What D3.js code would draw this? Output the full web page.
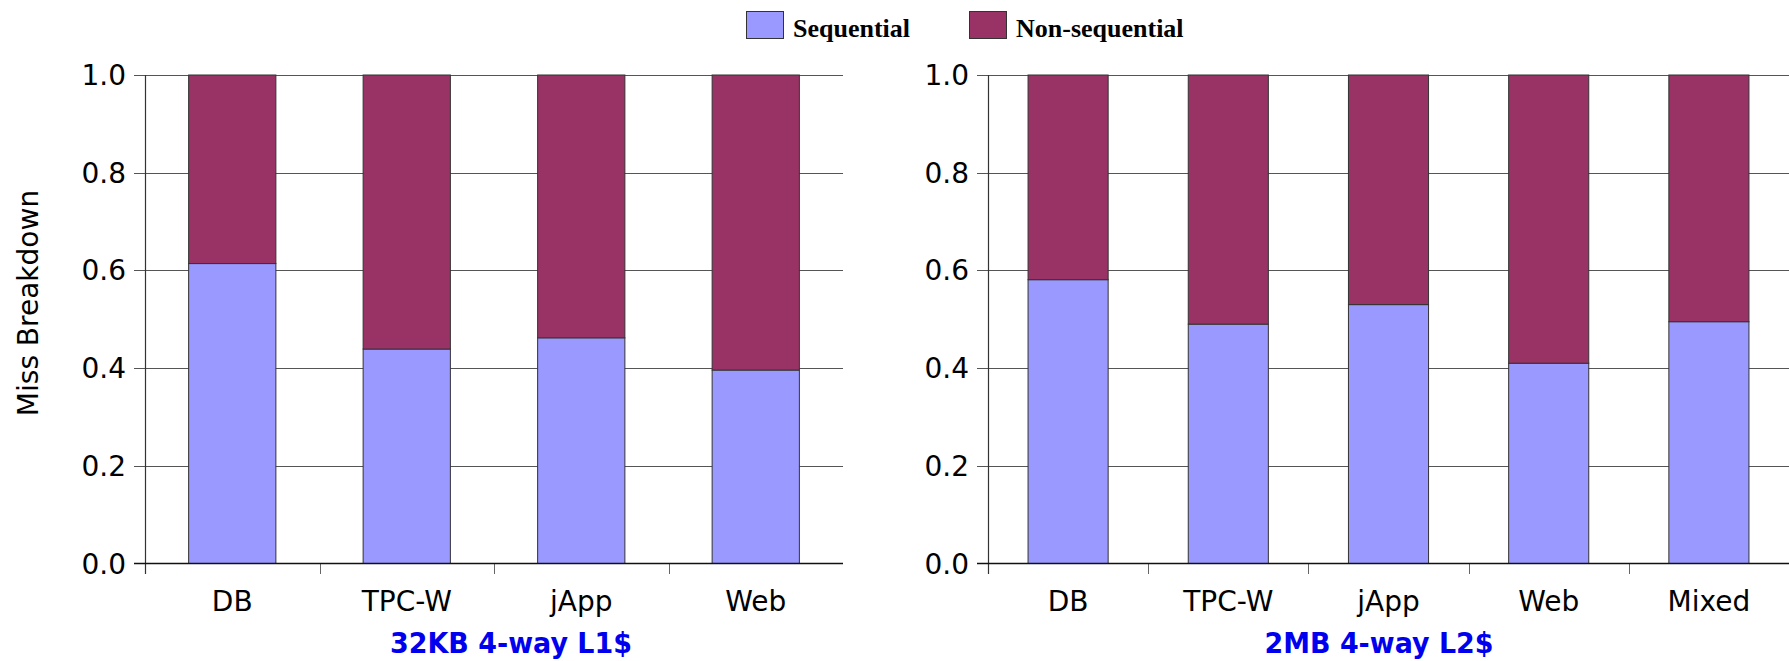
<!DOCTYPE html>
<html>
<head>
<meta charset="utf-8">
<script src="https://cdn.jsdelivr.net/npm/d3@7"></script>
<style>
html,body{margin:0;padding:0;background:#fff;}
svg{display:block;}
</style>
</head>
<body>
<svg id="chart" width="1789" height="661"></svg>
<script>
// ---- data ----
const seriesNames = ["Sequential", "Non-sequential"];
const seriesColors = ["#9999FF", "#993366"];
const leftCategories = ["DB", "TPC-W", "jApp", "Web"];
const leftSequential = [0.614, 0.439, 0.462, 0.396];
const rightCategories = ["DB", "TPC-W", "jApp", "Web", "Mixed"];
const rightSequential = [0.581, 0.490, 0.530, 0.410, 0.495];
const yTicks = [0.0, 0.2, 0.4, 0.6, 0.8, 1.0];
const leftTitle = "32KB 4-way L1$";
const rightTitle = "2MB 4-way L2$";
const yAxisTitle = "Miss Breakdown";

const svg = d3.select("#chart");
const tickFont = "DejaVu Sans, Verdana, sans-serif";

const y = d3.scaleLinear().domain([0, 1]).range([563.5, 75]);

function panel(opts) {
  const {x0, x1, cats, seq, title, titleLen} = opts;
  const g = svg.append("g");
  const x = d3.scaleBand().domain(cats).range([x0, x1]).paddingInner(0).paddingOuter(0);
  const bw = x.bandwidth();
  const barW = bw * 0.5;

  // gridlines + y ticks
  g.selectAll("line.grid").data(yTicks).enter().append("line")
    .attr("x1", x0 - 11).attr("x2", x1)
    .attr("y1", d => Math.round(y(d)) + 0.5).attr("y2", d => Math.round(y(d)) + 0.5)
    .attr("stroke", d => d === 0 ? "none" : "#555").attr("stroke-width", 1);

  // y tick labels
  g.selectAll("text.ytick").data(yTicks).enter().append("text")
    .attr("x", x0 - 19).attr("y", d => y(d))
    .attr("dy", "0.36em")
    .attr("text-anchor", "end")
    .attr("font-family", tickFont).attr("font-size", 28).attr("fill", "#000")
    .text(d => d3.format(".1f")(d));

  // stacked bars
  const rows = cats.map((c, i) => ({cat: c, s: seq[i], n: 1 - seq[i]}));
  const stack = d3.stack().keys(["s", "n"])(rows);
  stack.forEach((layer, li) => {
    g.selectAll(null).data(layer).enter().append("rect")
      .attr("x", d => x(d.data.cat) + (bw - barW) / 2)
      .attr("width", barW)
      .attr("y", d => y(d[1]))
      .attr("height", d => y(d[0]) - y(d[1]))
      .attr("fill", seriesColors[li])
      .attr("stroke", "#333").attr("stroke-width", 1);
  });

  // y axis line
  g.append("line").attr("x1", x0 + 0.5).attr("x2", x0 + 0.5)
    .attr("y1", y(1)).attr("y2", 574)
    .attr("stroke", "#333").attr("stroke-width", 1.2);

  // x axis ticks at band boundaries
  g.selectAll("line.xt").data(cats.slice(1)).enter().append("line")
    .attr("x1", d => Math.round(x(d)) + 0.5).attr("x2", d => Math.round(x(d)) + 0.5)
    .attr("y1", 563).attr("y2", 574)
    .attr("stroke", "#666").attr("stroke-width", 1);

  // x axis line
  g.append("line").attr("x1", x0 - 11).attr("x2", x1)
    .attr("y1", 563.5).attr("y2", 563.5)
    .attr("stroke", "#111").attr("stroke-width", 1.6);

  // category labels
  g.selectAll("text.xl").data(cats).enter().append("text")
    .attr("x", d => x(d) + bw / 2).attr("y", 611)
    .attr("text-anchor", "middle")
    .attr("font-family", tickFont).attr("font-size", 28).attr("fill", "#000")
    .text(d => d);

  // panel title
  g.append("text")
    .attr("x", opts.titleX).attr("y", 653)
    .attr("text-anchor", "middle")
    .attr("font-family", tickFont).attr("font-weight", "bold")
    .attr("font-size", 29).attr("fill", "#0000EE")
    .attr("textLength", titleLen).attr("lengthAdjust", "spacingAndGlyphs")
    .text(title);
}

panel({x0: 145, x1: 843, cats: leftCategories, seq: leftSequential, title: leftTitle, titleLen: 242, titleX: 511});
panel({x0: 988, x1: 1789, cats: rightCategories, seq: rightSequential, title: rightTitle, titleLen: 229, titleX: 1379});

// y axis title
svg.append("text")
  .attr("transform", "translate(38,303) rotate(-90)")
  .attr("text-anchor", "middle")
  .attr("font-family", tickFont).attr("font-size", 28).attr("fill", "#000")
  .text(yAxisTitle);

// legend
const legendX = [746, 969];
const lg = svg.append("g");
seriesNames.forEach((name, i) => {
  lg.append("rect")
    .attr("x", legendX[i] + 0.5).attr("y", 11.5)
    .attr("width", 37).attr("height", 27)
    .attr("fill", seriesColors[i]).attr("stroke", "#333").attr("stroke-width", 1);
  lg.append("text")
    .attr("x", legendX[i] + 47).attr("y", 37)
    .attr("font-family", "Liberation Serif, Times New Roman, serif")
    .attr("font-weight", "bold").attr("font-size", 26).attr("fill", "#000")
    .text(name);
});
</script>
</body>
</html>
